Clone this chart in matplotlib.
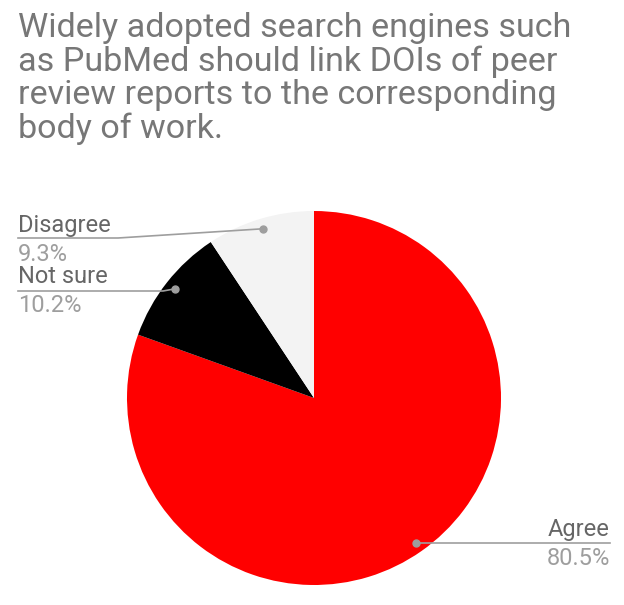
import numpy as np
import matplotlib.pyplot as plt
from matplotlib.lines import Line2D

plt.rcParams['font.family'] = ['Roboto', 'DejaVu Sans']

# chart data
labels = ['Agree', 'Not sure', 'Disagree']
values = [80.5, 10.2, 9.3]
colors = ['#ff0000', '#000000', '#f3f3f3']

title_lines = ['Widely adopted search engines such',
               'as PubMed should link DOIs of peer',
               'review reports to the corresponding',
               'body of work.']

W, H = 624, 605
fig = plt.figure(figsize=(W / 100, H / 100), dpi=100)
fig.patch.set_facecolor('white')


def fx(x):
    return x / W


def fy(y):
    return 1 - y / H


# title, one line at a time (pixel baselines)
for i, line in enumerate(title_lines):
    fig.text(fx(18), fy(37 + i * 33.7), line, fontsize=24.6, color='#777777',
             va='baseline', ha='left')

# pie: centre (314, 398) px, radius 187 px
cx, cy, r = 314, 398, 187
ax = fig.add_axes([fx(cx - r), fy(cy + r), 2 * r / W, 2 * r / H])
ax.pie(values, colors=colors, startangle=90, counterclock=False, radius=1,
       wedgeprops=dict(linewidth=0))
ax.set_xlim(-1, 1)
ax.set_ylim(-1, 1)
ax.axis('off')

# label layout: text anchor x, name baseline, underline y, end of underline, alignment
layout = {
    'Agree':    dict(x=610, base=536, uy=543, ux=610, ha='right', bend=None),
    'Not sure': dict(x=18, base=283, uy=291, ux=18, ha='left', bend=163),
    'Disagree': dict(x=18, base=232, uy=238, ux=18, ha='left', bend=118),
}

line_col = '#9e9e9e'
total = sum(values)
start = 90.0
for lab, val in zip(labels, values):
    span = 360.0 * val / total
    mid = np.deg2rad(start - span / 2)
    start -= span
    # dot inside the slice, in pixels
    dx = cx + 0.945 * r * np.cos(mid)
    dy = cy - 0.945 * r * np.sin(mid)
    L = layout[lab]
    if L['bend'] is None:
        xs = [dx, L['ux']]
        ys = [L['uy'], L['uy']]
    else:
        xs = [dx, L['bend'], L['ux']]
        ys = [dy, L['uy'], L['uy']]
    fig.add_artist(Line2D([fx(v) for v in xs], [fy(v) for v in ys],
                          color=line_col, lw=1.2, transform=fig.transFigure))
    fig.add_artist(Line2D([fx(dx)], [fy(dy)], marker='o', ms=5, color=line_col,
                          lw=0, transform=fig.transFigure))
    fig.text(fx(L['x']), fy(L['base']), lab, fontsize=17, color='#666666',
             ha=L['ha'], va='baseline')
    fig.text(fx(L['x']), fy(L['base'] + 29), f'{val:.1f}%', fontsize=17,
             color='#9e9e9e', ha=L['ha'], va='baseline')

fig.savefig('out.png', dpi=100, facecolor='white')
